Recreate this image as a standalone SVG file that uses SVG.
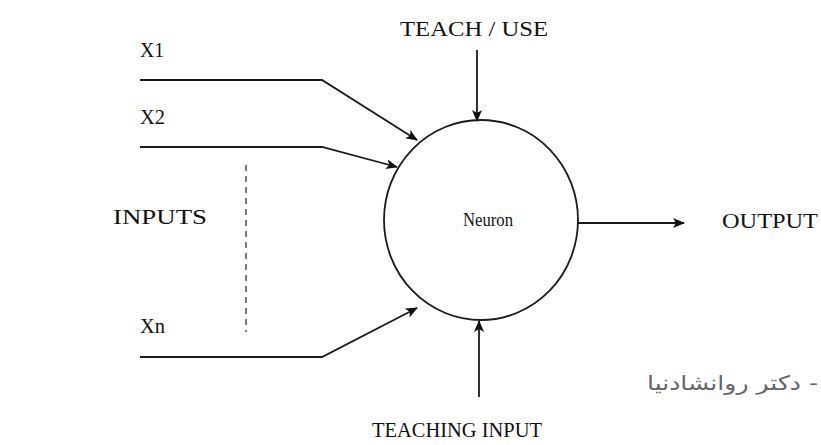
<svg xmlns="http://www.w3.org/2000/svg" width="821" height="445" viewBox="0 0 821 445">
<style>
.lbl{font-family:"Liberation Serif","Times New Roman",serif;font-size:21px;fill:#111}
.ln{fill:none;stroke:#1a1a1a;stroke-width:1.8}
.ar{marker-end:url(#ah)}
</style>
<defs>
<marker id="ah" markerWidth="12" markerHeight="10" refX="11" refY="5" orient="auto" markerUnits="userSpaceOnUse">
<path d="M0,0 L12,5 L0,10 L3,5 Z" fill="#111"/>
</marker>
</defs>
<rect width="821" height="445" fill="#fff"/>
<g id="connectors">
<polyline class="ln ar" points="140,80 322,80 417,140"/>
<polyline class="ln ar" points="140,147 322,147 397,167"/>
<polyline class="ln ar" points="140,357 322,357 417,308"/>
<line x1="246" y1="165" x2="246" y2="332" stroke="#222" stroke-width="1.2" stroke-dasharray="6,5"/>
<line class="ln ar" x1="477" y1="50" x2="477" y2="121"/>
<line class="ln ar" x1="479" y1="397" x2="479" y2="321"/>
<line class="ln ar" x1="578" y1="223" x2="684" y2="223"/>
</g>
<g id="neuron">
<ellipse cx="481" cy="220" rx="97" ry="100" fill="none" stroke="#1a1a1a" stroke-width="1.8"/>
<text class="lbl" x="463" y="226" style="font-size:18px" textLength="50" lengthAdjust="spacingAndGlyphs">Neuron</text>
</g>
<g id="x1"><text class="lbl" x="140" y="57" textLength="24" lengthAdjust="spacingAndGlyphs">X1</text></g>
<g id="x2"><text class="lbl" x="140" y="124" textLength="25" lengthAdjust="spacingAndGlyphs">X2</text></g>
<g id="xn"><text class="lbl" x="140" y="333" textLength="25" lengthAdjust="spacingAndGlyphs">Xn</text></g>
<g id="inputs"><text class="lbl" x="113" y="224" textLength="94" lengthAdjust="spacingAndGlyphs">INPUTS</text></g>
<g id="teach-use"><text class="lbl" x="400" y="36" textLength="148" lengthAdjust="spacingAndGlyphs">TEACH / USE</text></g>
<g id="output"><text class="lbl" x="722" y="228" textLength="96" lengthAdjust="spacingAndGlyphs">OUTPUT</text></g>
<g id="teaching-input"><text class="lbl" x="372" y="437" textLength="170" lengthAdjust="spacingAndGlyphs">TEACHING INPUT</text></g>
<g id="credit"><text x="818" y="390" direction="rtl" text-anchor="start" textLength="171" lengthAdjust="spacingAndGlyphs" style="font-family:'DejaVu Sans','Noto Sans',sans-serif;font-size:20px;fill:#666">- دكتر روانشادنيا</text></g>
</svg>
